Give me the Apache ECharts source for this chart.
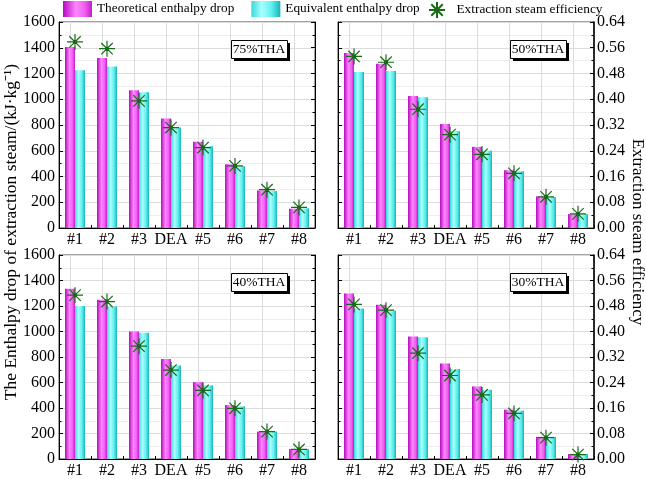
<!DOCTYPE html>
<html><head><meta charset="utf-8">
<script src="https://cdn.jsdelivr.net/npm/echarts@6/dist/echarts.min.js"></script>
<style>html,body{margin:0;padding:0;background:#fff}#c{width:646px;height:479px}</style>
</head><body><div id="c"></div>
<script>
const categories = ['#1','#2','#3','DEA','#5','#6','#7','#8'];
const panelLabels = ['75%THA','50%THA','40%THA','30%THA'];
const theo75 = [1405,1320,1070,850,670,495,292,150];
const equiv75 = [1225,1255,1055,780,635,480,287,153];
const eff75 = [0.578,0.557,0.395,0.312,0.250,0.193,0.119,0.064];
const theo50 = [1360,1275,1025,808,630,449,246,108];
const equiv50 = [1212,1220,1015,751,600,441,241,108];
const eff50 = [0.533,0.515,0.369,0.290,0.229,0.170,0.097,0.044];
const theo40 = [1335,1249,1000,785,603,423,215,78];
const equiv40 = [1200,1197,990,733,577,413,215,78];
const eff40 = [0.514,0.494,0.354,0.279,0.215,0.159,0.086,0.030];
const theo30 = [1298,1210,961,749,569,387,174,39];
const equiv30 = [1180,1164,954,705,543,380,174,39];
const eff30 = [0.485,0.467,0.332,0.262,0.201,0.143,0.067,0.014];
const leftTicks = [0,1600,200];
const rightTicks = [0,0.64,0.08];

const theoSets = [theo75, theo50, theo40, theo30];
const equivSets = [equiv75, equiv50, equiv40, equiv30];
const effSets = [eff75, eff50, eff40, eff30];

const FONT = 'Liberation Serif';
const grids = [
  {left:59, top:22, width:256, height:206},
  {left:338, top:22, width:256, height:206},
  {left:59, top:255, width:256, height:207},
  {left:338, top:255, width:256, height:207}
];
const magGrad = {type:'linear',x:0,y:0,x2:1,y2:0,colorStops:[
  {offset:0,color:'#b808c0'},{offset:0.45,color:'#ff86ff'},{offset:0.75,color:'#f060f0'},{offset:1,color:'#c818cf'}]};
const cyGrad = {type:'linear',x:0,y:0,x2:1,y2:0,colorStops:[
  {offset:0,color:'#38d8d8'},{offset:0.35,color:'#a8ffff'},{offset:0.7,color:'#60f0f0'},{offset:1,color:'#18b4b4'}]};
const starPath = 'path://M0,7 L14,7 M7,0 L7,14 M2,2 L12,12 M12,2 L2,12 M5.6,7 A1.4,1.4 0 1,0 8.4,7 A1.4,1.4 0 1,0 5.6,7 Z';

const xAxis = [], yAxis = [], series = [], boxes = [];
grids.forEach((g, i) => {
  const isLeft = (i % 2 === 0);
  xAxis.push({
    type:'category', gridIndex:i, data:categories,
    axisLine:{show:true, lineStyle:{color:'#000', width:1}},
    axisTick:{show:true, inside:true, length:3, lineStyle:{color:'#000'}},
    axisLabel:{interval:0, fontFamily:FONT, fontSize:16, color:'#000', margin:4},
    splitLine:{show:false}
  });
  yAxis.push({
    type:'value', gridIndex:i, position:'left', min:leftTicks[0], max:leftTicks[1], interval:leftTicks[2],
    axisLine:{show:true, lineStyle:{color:'#000'}},
    axisTick:{show:true, inside:true, length:4, lineStyle:{color:'#000'}},
    minorTick:{show:true, splitNumber:2, length:2.5, lineStyle:{color:'#000'}},
    axisLabel:{show:isLeft, fontFamily:FONT, fontSize:16, color:'#000', margin:4,
      formatter: v => String(v)},
    splitLine:{show:true, lineStyle:{color:'#dcdcdc', width:1}},
    minorSplitLine:{show:true, lineStyle:{color:'#eeeeee', width:1}}
  });
  yAxis.push({
    type:'value', gridIndex:i, position:'right', min:rightTicks[0], max:rightTicks[1], interval:rightTicks[2],
    axisLine:{show:true, lineStyle:{color:'#000', width: isLeft ? 1 : 1.5}},
    axisTick:{show:true, inside:true, length:4, lineStyle:{color:'#000'}},
    minorTick:{show:true, splitNumber:2, length:2.5, lineStyle:{color:'#000'}},
    axisLabel:{show:!isLeft, fontFamily:FONT, fontSize:16, color:'#000', margin:3,
      formatter: v => v.toFixed(2)},
    splitLine:{show:false}
  });
  series.push({
    name:'Theoretical enthalpy drop', type:'bar', xAxisIndex:i, yAxisIndex:2*i,
    data:theoSets[i], barWidth:10, barGap:'0%',
    itemStyle:{color:magGrad},
    markLine:{silent:true, symbol:'none', label:{show:false},
      lineStyle:{color:'#dcdcdc', type:'solid', width:1},
      data: categories.map(c => ({xAxis:c})), z:0},
    z:2
  });
  series.push({
    name:'Equivalent enthalpy drop', type:'bar', xAxisIndex:i, yAxisIndex:2*i,
    data:equivSets[i], barWidth:10, barGap:'0%',
    itemStyle:{color:cyGrad}, z:2
  });
  series.push({
    name:'Extraction steam efficiency', type:'scatter', xAxisIndex:i, yAxisIndex:2*i+1,
    data:effSets[i], symbol:starPath, symbolSize:16,
    itemStyle:{color:'#176b17', borderColor:'#176b17', borderWidth:1.2, opacity:1}, z:5
  });
  const bx = isLeft ? 231 : 510;
  const by = i < 2 ? 40 : 273;
  const bw = 56, bh = 18;
  boxes.push({type:'rect', z:20, shape:{x:bx+3, y:by+3, width:bw, height:bh}, style:{fill:'#000'}});
  boxes.push({type:'rect', z:21, shape:{x:bx+0.5, y:by+0.5, width:bw, height:bh}, style:{fill:'#fff', stroke:'#000', lineWidth:1}});
  boxes.push({type:'text', z:22, x:bx+bw/2, y:by+2.5,
    style:{text:panelLabels[i], font:'normal 13.5px "Liberation Serif"', fill:'#000', align:'center', verticalAlign:'top'}});
});

const legendText = {fontFamily:FONT, fontSize:13.3, color:'#000'};
const option = {
  animation:false,
  backgroundColor:'#fff',
  grid: grids.map(g => Object.assign({show:true, borderColor:'#444', borderWidth:1, backgroundColor:'transparent'}, g)),
  legend:[{
    left:63, top:1, padding:0, itemWidth:29, itemHeight:16, itemGap:17,
    textStyle:legendText,
    data:[
      {name:'Theoretical enthalpy drop', icon:'rect'},
      {name:'Equivalent enthalpy drop', icon:'rect'}
    ]
  },{
    left:428, top:1, padding:0, itemWidth:29, itemHeight:16,
    textStyle:legendText,
    data:[{name:'Extraction steam efficiency', icon:starPath}]
  }],
  xAxis, yAxis, series,
  graphic: boxes.concat([
    {type:'text', rotation:Math.PI/2, z:10,
      style:{text:'The Enthalpy drop of extraction steam/(kJ·kg⁻¹)', fontFamily:FONT, fontSize:17.5, fill:'#000', align:'center', verticalAlign:'middle'},
      x:11, y:232},
    {type:'text', rotation:-Math.PI/2, z:10,
      style:{text:'Extraction steam efficiency', fontFamily:FONT, fontSize:17, fill:'#000', align:'center', verticalAlign:'middle'},
      x:637, y:232}
  ])
};
const chart = echarts.init(document.getElementById('c'), null, {renderer:'canvas'});
chart.setOption(option);
</script>
</body></html>
